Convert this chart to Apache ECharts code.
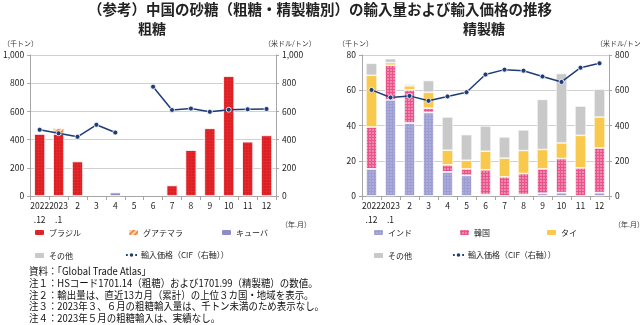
<!DOCTYPE html>
<html><head><meta charset="utf-8">
<script src="https://cdn.jsdelivr.net/npm/echarts@6/dist/echarts.min.js"></script>
<style>html,body{margin:0;padding:0;background:#fff}#c{width:640px;height:325px}</style>
</head><body><div id="c"></div>
<script>
const categories = ['2022\n.12','2023\n.1','2','3','4','5','6','7','8','9','10','11','12'];
// 粗糖 (千トン)
const rawBrazil    = [440, 440, 245, null, null, null, null, 75, 325, 480, 850, 385, 430];
const rawGuatemala = [null, 40, null, null, null, null, null, null, null, null, null, null, null];
const rawCuba      = [null, null, null, null, 25, null, null, null, null, null, null, null, null];
const rawPrice     = [470, 445, 420, 505, 450, null, 775, 610, 620, 597, 612, 615, 617];
// 精製糖 (千トン)
const refIndia = [15.4, 54.6, 41.4, 47.4, 13.7, 11.7, 0.8, null, 0.8, 1.5, 1.9, null, 1.9];
const refKorea = [23.8, 19.6, 18.8, 2.5, 4.0, 3.7, 14.1, 10.9, 12.0, 13.9, 19.4, 16.0, 25.4];
const refThai  = [29.3, 1.5, 2.3, 9.0, 8.3, 4.9, 10.5, 10.6, 13.0, 11.0, 8.8, 18.4, 17.5];
const refOther = [6.8, 2.2, 0.9, 6.6, 18.8, 14.5, 14.3, 12.0, 11.7, 28.4, 39.4, 16.6, 15.8];
const refPrice = [602, 559, 568, 540, 565, 589, 689, 717, 711, 678, 647, 728, 753];
const notes = ['資料：「Global Trade Atlas」',
  '注１：HSコード1701.14（粗糖）および1701.99（精製糖）の数値。',
  '注２：輸出量は、直近13カ月（累計）の上位３カ国・地域を表示。',
  '注３：2023年３、６月の粗糖輸入量は、千トン未満のため表示なし。',
  '注４：2023年５月の粗糖輸入は、実績なし。'];

const FONT = '"Noto Sans CJK JP", "Noto Sans", sans-serif';
const C = {brazil:'#e5262b', guat:'#fbd9bf', cuba:'#8f8bc9', india:'#9e9dd3', korea:'#ea5289', thai:'#f8c94c', other:'#c9c9c9', line:'#1d3c78'};
const priceName = '輸入価格（CIF（右軸））';

const chart = echarts.init(document.getElementById('c'), null, {renderer:'canvas'});

function xAxis(gi){
  return {type:'category', gridIndex:gi, data:categories, boundaryGap:true,
    axisLine:{lineStyle:{color:'#a6a6a6'}}, axisTick:{show:true, length:4, lineStyle:{color:'#a6a6a6'}},
    axisLabel:{color:'#222', fontSize:8.5, fontFamily:FONT, lineHeight:14, interval:0, margin:3}};
}
function yAxis(gi, max, interval, pos, showSplit){
  return {type:'value', gridIndex:gi, min:0, max:max, interval:interval, position:pos,
    axisLine:{show:true, lineStyle:{color:'#a6a6a6'}},
    axisTick:{show:true, length:3, lineStyle:{color:'#a6a6a6'}},
    splitLine:{show:showSplit, lineStyle:{color:'#d0d0d0'}},
    axisLabel:{color:'#222', fontSize:8.5, fontFamily:FONT, margin:6,
      formatter: v => v.toLocaleString('en-US')}};
}
function bar(name, data, color, xi, yi, stack, decal){
  const s = {name, type:'bar', xAxisIndex:xi, yAxisIndex:yi, stack, data, barWidth:11,
    itemStyle:{color, borderColor:'#fff', borderWidth:0.6}};
  if (decal) s.itemStyle.decal = decal;
  return s;
}
function line(name, data, xi, yi){
  return {name, type:'line', xAxisIndex:xi, yAxisIndex:yi, data, connectNulls:false,
    symbol:'circle', symbolSize:5, z:5,
    lineStyle:{color:C.line, width:1.5}, itemStyle:{color:C.line, borderColor:'#fff', borderWidth:0.8}};
}
function legendItem(name, left, top){
  return {data:[name], left, top, itemWidth:11, itemHeight:7, itemGap:4, padding:0,
    textStyle:{fontSize:8, fontFamily:FONT, color:'#222', padding:[0,0,0,-1]}, selectedMode:false};
}
const decBrazil = {symbol:'circle', symbolSize:0.7, color:'rgba(150,0,0,0.45)', dashArrayX:[[2,1]], dashArrayY:[2,1]};
const decKorea  = {symbol:'circle', symbolSize:0.8, color:'rgba(255,255,255,0.7)', dashArrayX:[[2,1]], dashArrayY:[2,1]};
const decIndia  = {symbol:'circle', symbolSize:0.8, color:'rgba(255,255,255,0.35)', dashArrayX:[[2,1]], dashArrayY:[2,1]};
const decGuat   = {symbol:'rect', symbolSize:1, color:'#f08a45', dashArrayX:[[1,0]], dashArrayY:[1.5,1.5], rotation:-Math.PI/4};
const decCuba   = {symbol:'rect', symbolSize:1, color:'rgba(255,255,255,0.8)', dashArrayX:[[2,1]], dashArrayY:[[1,0]]};

const graphics = [
  {type:'text', x:320, y:2, style:{text:'（参考）中国の砂糖（粗糖・精製糖別）の輸入量および輸入価格の推移', font:`bold 14.5px ${FONT}`, fill:'#222', textAlign:'center'}},
  {type:'text', x:152, y:22, style:{text:'粗糖', font:`bold 14px ${FONT}`, fill:'#222', textAlign:'center'}},
  {type:'text', x:484, y:22, style:{text:'精製糖', font:`bold 14px ${FONT}`, fill:'#222', textAlign:'center'}},
  {type:'text', x:3, y:40, style:{text:'（千トン）', font:`7px ${FONT}`, fill:'#333'}},
  {type:'text', x:264, y:40, style:{text:'（米ドル/トン）', font:`7px ${FONT}`, fill:'#333'}},
  {type:'text', x:338, y:40, style:{text:'（千トン）', font:`7px ${FONT}`, fill:'#333'}},
  {type:'text', x:596, y:40, style:{text:'（米ドル/トン）', font:`7px ${FONT}`, fill:'#333'}},
  {type:'text', x:281, y:221, style:{text:'（年.月）', font:`7px ${FONT}`, fill:'#333'}},
  {type:'text', x:614, y:221, style:{text:'（年.月）', font:`7px ${FONT}`, fill:'#333'}},
];
notes.forEach((t,i)=>graphics.push({type:'text', x:29, y:266+i*11.7, scaleX:0.9, style:{text:t, font:`10.5px ${FONT}`, fill:'#111'}}));

chart.setOption({
  animation:false,
  grid:[{left:30, top:55, width:246, height:141}, {left:362, top:55, width:247, height:141}],
  xAxis:[xAxis(0), xAxis(1)],
  yAxis:[yAxis(0,1000,200,'left',true), yAxis(0,1000,200,'right',false),
         yAxis(1,80,20,'left',true), yAxis(1,800,200,'right',false)],
  legend:[
    legendItem('ブラジル',33,228), legendItem('グアテマラ',127,228), legendItem('キューバ',220,228),
    legendItem('その他',33,251), legendItem(priceName,125,251),
    legendItem('インド',372,228), legendItem('韓国',458,228), legendItem('タイ',545,228),
    legendItem('その他',372,251), legendItem(priceName,452,251)
  ],
  series:[
    bar('ブラジル', rawBrazil, C.brazil, 0, 0, 'raw', decBrazil),
    bar('グアテマラ', rawGuatemala, C.guat, 0, 0, 'raw', decGuat),
    bar('キューバ', rawCuba, C.cuba, 0, 0, 'raw', decCuba),
    line(priceName, rawPrice, 0, 1),
    bar('インド', refIndia, C.india, 1, 2, 'ref', decIndia),
    bar('韓国', refKorea, C.korea, 1, 2, 'ref', decKorea),
    bar('タイ', refThai, C.thai, 1, 2, 'ref'),
    bar('その他', refOther, C.other, 1, 2, 'ref'),
    line(priceName, refPrice, 1, 3)
  ],
  graphic:graphics
});
</script></body></html>
